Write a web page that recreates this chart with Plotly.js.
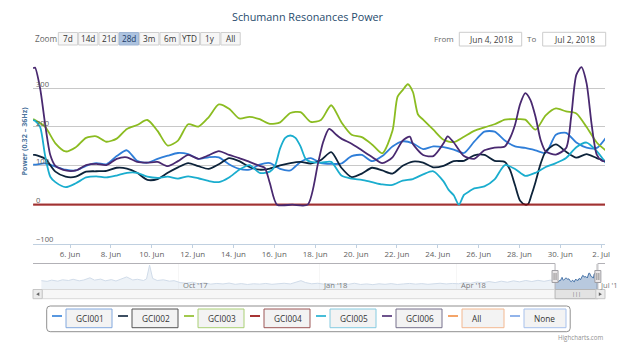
<!DOCTYPE html>
<html>
<head>
<meta charset="utf-8">
<script src="https://cdn.plot.ly/plotly-3.0.1.min.js"></script>
<style>html,body{margin:0;padding:0;background:#fff}#chart{width:640px;height:343px}</style>
</head>
<body>
<div id="chart"></div>
<script>
// ================= DATA =================
const seriesNames  = ['GCI001','GCI002','GCI003','GCI004','GCI005','GCI006'];
const seriesColors = ['#2f7ed8','#0d233a','#8bbc21','#910000','#1aadce','#492970'];

// day offsets (days after 2018-06-04 06:49) and values
const gci001Days = [-0.09,0,0.5,1,1.5,2,2.5,3,3.5,4,4.5,5,5.5,6,6.5,7,7.5,8,8.5,9,9.5,10,10.5,11,11.5,12,12.5,13,13.5,14,14.5,15,15.5,16,16.5,17,17.5,18,18.5,19,19.5,20,20.5,21,21.5,22,22.5,23,23.5,24,24.5,25,25.5,26,26.5,27,27.5,28];
const gci001Values = [103,103,106,98,90,88,100,107,104,125,140,113,108,118,126,133,130,118,122,122,104,92,90,103,107,92,88,110,120,107,105,106,125,128,112,125,150,163,158,143,150,148,142,133,162,188,188,165,150,146,140,133,180,185,160,147,146,176];

const gci002Days = [-0.09,0,0.5,1,1.5,2,2.5,3,3.5,4,4.5,5,5.5,6,6.5,7,7.5,8,8.5,9,9.5,10,10.5,11,11.5,12,12.5,13,13.5,14,14.5,15,15.5,16,16.5,17,17.5,18,18.5,19,19.5,20,20.5,21,21.5,22,22.5,23,23.25,23.5,23.75,24,24.15,24.3,24.5,24.75,25,25.5,26,26.5,27,27.5,28];
const gci002Values = [128,128,118,85,72,72,85,86,87,95,93,82,64,66,82,96,107,99,92,104,120,112,97,90,93,101,107,110,106,115,135,95,71,80,95,88,80,100,111,108,96,100,112,113,127,128,113,110,90,50,10,0,2,24,58,105,137,155,136,121,130,120,111];

const gci003Days = [-0.09,0,0.5,1,1.5,2,2.5,3,3.5,4,4.5,5,5.5,6,6.5,7,7.5,8,8.5,9,9.5,10,10.5,11,11.5,12,12.5,13,13.5,14,14.5,15,15.5,16,16.5,17,17.5,17.75,18,18.25,18.5,18.75,19,19.5,20,20.5,21,21.5,22,22.5,23,23.5,24,24.5,25,25.5,26,26.5,27,27.5,28];
const gci003Values = [220,218,200,158,137,148,172,176,162,170,195,205,218,190,152,165,207,201,225,258,247,222,226,220,208,212,236,238,213,218,256,212,180,174,155,132,190,278,295,310,290,232,219,193,167,161,175,190,199,207,219,220,219,193,230,248,240,235,200,160,137];

const gci004Days = [-0.09,28];
const gci004Values = [0,0];

const gci005Days = [-0.09,0,0.25,0.5,0.75,1,1.5,2,2.5,3,3.5,4,4.5,5,5.5,6,6.5,7,7.5,8,8.5,9,9.5,10,10.5,11,11.5,11.75,12,12.25,12.5,12.75,13,13.25,13.5,14,14.5,15,15.5,16,16.5,17,17.5,18,18.5,19,19.5,20,20.25,20.5,20.75,21,21.25,21.5,22,22.5,23,23.5,24,24.5,25,25.5,26,26.5,27,27.5,28];
const gci005Values = [218,216,200,125,72,58,45,55,70,73,70,75,82,82,72,69,72,67,73,68,61,58,70,90,102,82,85,100,145,172,178,172,150,118,110,108,110,75,67,64,58,52,51,62,66,78,86,60,38,24,0,25,34,42,47,65,102,92,74,82,97,107,120,148,160,138,103];

const gci006Days = [-0.09,0,0.25,0.5,0.75,1,1.5,2,2.5,3,3.5,4,4.5,5,5.5,6,6.5,7,7.5,8,8.5,9,9.5,10,10.5,11,11.25,11.5,11.85,12.6,13.35,13.85,14.1,14.4,14.75,15,15.5,16,16.5,17,17.5,18,18.35,18.5,19,19.5,20,20.2,20.5,21,21.5,22,22.5,23,23.25,23.5,23.75,24,24.25,24.5,24.75,25,25.5,26,26.25,26.5,26.75,27,27.25,27.5,27.75,28];
const gci006Values = [351,353,300,206,128,100,88,88,102,105,102,118,122,110,108,110,99,112,128,118,127,138,128,120,110,100,95,55,0,0,0,105,160,195,180,170,157,140,123,107,122,165,175,156,128,125,158,176,160,125,118,140,147,150,171,206,259,287,270,227,167,137,129,146,227,334,354,313,206,129,113,111];

// navigator history (one year), read from the navigator strip
const navDates = ['2017-07-03 05:00','2017-07-07','2017-07-10','2017-07-14','2017-07-17','2017-07-21','2017-07-24','2017-07-28','2017-07-31','2017-08-04','2017-08-07','2017-08-11','2017-08-14','2017-08-18','2017-08-21','2017-08-25','2017-08-28','2017-09-01','2017-09-04','2017-09-08','2017-09-10','2017-09-12','2017-09-14','2017-09-17','2017-09-21','2017-09-25','2017-09-28','2017-10-02','2017-10-06','2017-10-10','2017-10-14','2017-10-18','2017-10-22','2017-10-26','2017-10-30','2017-11-03','2017-11-07','2017-11-11','2017-11-15','2017-11-19','2017-11-23','2017-11-27','2017-12-01','2017-12-05','2017-12-09','2017-12-13','2017-12-17','2017-12-20','2017-12-23','2017-12-27','2017-12-31','2018-01-04','2018-01-08','2018-01-12','2018-01-16','2018-01-20','2018-01-24','2018-01-28','2018-02-01','2018-02-05','2018-02-09','2018-02-13','2018-02-17','2018-02-21','2018-02-25','2018-03-01','2018-03-05','2018-03-09','2018-03-13','2018-03-17','2018-03-21','2018-03-25','2018-03-29','2018-04-02','2018-04-06','2018-04-10','2018-04-14','2018-04-18','2018-04-22','2018-04-26','2018-04-30','2018-05-04','2018-05-08','2018-05-12','2018-05-16','2018-05-20','2018-05-24','2018-05-28','2018-06-01','2018-06-04'];
const navValues = [102,94,108,96,112,104,118,100,110,135,108,120,100,114,98,122,145,110,118,104,122,282,128,104,112,96,102,80,72,84,66,76,62,70,64,74,60,68,58,66,62,70,60,66,72,64,82,102,80,66,72,62,70,58,66,60,72,58,64,56,66,60,68,58,64,70,62,68,60,66,72,64,70,66,80,72,86,78,92,80,96,84,100,88,104,92,106,94,108,100];

const yTickVals = [-100,0,100,200,300,400];
const yTickText = ['\u2212100','0','100','200','300',''];
const navTickDates = ['2017-10-01','2018-01-01','2018-04-01','2018-07-01'];
const navTickLabels = ["Oct '17","Jan '18","Apr '18","Jul '1"];
const zoomButtons = ['7d','14d','21d','28d','3m','6m','YTD','1y','All'];
const legendLabels = ['GCI001','GCI002','GCI003','GCI004','GCI005','GCI006','All','None'];
const legendLineColors = ['#2f7ed8','#0d233a','#8bbc21','#910000','#1aadce','#492970','#f28f43','#77a1e5'];
const legendBorderColors = ['#82a8de','#555555','#a9cf74','#9c5656','#86cbe0','#76708c','#f3b890','#a7c1ec'];

// ================= LAYOUT HELPERS =================
const W = 640, H = 343;
const px = v => v / W;
const py = v => 1 - v / H;
const FONT = '"Open Sans", "DejaVu Sans", sans-serif';
const dataStart = Date.UTC(2018, 5, 4, 6, 49);
function dayToDate(d) {
  return new Date(dataStart + d * 86400000).toISOString().slice(0, 19).replace('T', ' ');
}
const viewStart = '2018-06-04 04:30', viewEnd = '2018-07-02 04:30';
const viewMid = '2018-06-18 04:30';
const navRange = ['2017-06-27 18:00', '2018-07-06 20:24'];

const allDays = [gci001Days, gci002Days, gci003Days, gci004Days, gci005Days, gci006Days];
const allValues = [gci001Values, gci002Values, gci003Values, gci004Values, gci005Values, gci006Values];

const traces = seriesNames.map((name, i) => ({
  type: 'scatter', mode: 'lines', name: name,
  x: allDays[i].map(dayToDate), y: allValues[i],
  xaxis: 'x', yaxis: 'y',
  line: {color: seriesColors[i], width: i === 3 ? 2.4 : 1.8, shape: i === 3 ? 'linear' : 'spline', smoothing: 0.7},
  opacity: i === 3 ? 0.75 : 1,
  hoverinfo: 'skip'
}));

traces.unshift({
  type: 'scatter', mode: 'lines', name: 'navigator',
  x: navDates.concat(gci001Days.map(dayToDate)),
  y: navValues.concat(gci001Values),
  xaxis: 'x2', yaxis: 'y2',
  fill: 'tozeroy', fillcolor: 'rgba(69,114,167,0.38)',
  line: {color: '#4572A7', width: 1},
  hoverinfo: 'skip'
});

const shapes = [];
const annotations = [];
function prect(x0, x1, y0, y1, fill, stroke) {
  shapes.push({type: 'rect', xref: 'paper', yref: 'paper', x0: px(x0), x1: px(x1), y0: py(y1), y1: py(y0),
    fillcolor: fill, line: {color: stroke, width: stroke ? 1 : 0}, layer: 'above'});
}
function ptext(x, y, text, size, color, xanchor, extra) {
  annotations.push(Object.assign({xref: 'paper', yref: 'paper', x: px(x), y: py(y), text: text, showarrow: false,
    font: {family: FONT, size: size, color: color}, xanchor: xanchor || 'center', yanchor: 'middle'}, extra || {}));
}

// ----- range selector -----
ptext(33, 39, 'Zoom', 8.2, '#666666', 'left');
zoomButtons.forEach((b, i) => {
  const x0 = 58.3 + i * 20.33;
  const sel = b === '28d';
  prect(x0, x0 + 19.3, 32.5, 45, sel ? '#adc3e0' : '#f6f6f6', sel ? '#9fb5d3' : '#cfcfcf');
  ptext(x0 + 9.65, 38.9, b, 8.2, sel ? '#1b3a66' : '#333333');
});
ptext(456, 39, 'From', 8, '#666666', 'right');
prect(459.3, 521.7, 32.3, 46, '#ffffff', '#cccccc');
ptext(490.5, 39.2, 'Jun 4, 2018', 8.4, '#444444');
ptext(538.3, 39, 'To', 8, '#666666', 'right');
prect(542.7, 605.7, 32.3, 46, '#ffffff', '#cccccc');
ptext(574.2, 39.2, 'Jul 2, 2018', 8.4, '#444444');

// ----- y axis title -----
ptext(23.5, 141, '<b>Power (0.32 \u2013 36Hz)</b>', 7.2, '#4d759e', 'center', {textangle: -90});

// ----- navigator -----
const navTop = 263.5, navBot = 289.5, sbTop = 289.5, sbBot = 298.7;
const outline = '#b2b1b6';
shapes.push({type: 'rect', xref: 'x2', yref: 'paper', x0: navRange[0], x1: viewStart, y0: py(navBot), y1: py(navTop),
  fillcolor: 'rgba(255,255,255,0.75)', line: {width: 0}, layer: 'above'});
[[navRange[0], viewStart, navTop, navTop], [viewStart, viewStart, navTop, navBot], [viewStart, viewEnd, navBot, navBot],
 [viewEnd, viewEnd, navBot, navTop], [viewEnd, navRange[1], navTop, navTop]].forEach(s => {
  shapes.push({type: 'line', xref: 'x2', yref: 'paper', x0: s[0], x1: s[1], y0: py(s[2]), y1: py(s[3]),
    line: {color: outline, width: 1}, layer: 'above'});
});
navTickDates.forEach((d, i) => {
  annotations.push({xref: 'x2', yref: 'paper', x: d, y: py(284.6), text: navTickLabels[i], showarrow: false,
    xanchor: 'left', yanchor: 'middle', xshift: 2, font: {family: FONT, size: 7.6, color: '#7a7a7a'}});
});
// scrollbar
prect(42.2, 595.8, sbTop, sbBot, '#f7f7f7', '#d9d9d9');
shapes.push({type: 'rect', xref: 'x2', yref: 'paper', x0: viewStart, x1: viewEnd, y0: py(sbBot), y1: py(sbTop),
  fillcolor: '#e3e3e3', line: {color: '#b5b5b5', width: 1}, layer: 'above'});
annotations.push({xref: 'x2', yref: 'paper', x: viewMid, y: py(294.2), text: '|||', showarrow: false,
  xanchor: 'center', yanchor: 'middle', font: {family: FONT, size: 5.5, color: '#666666'}});
prect(33, 42.2, sbTop, sbBot, '#ececec', '#c6c6c6');
prect(595.8, 605, sbTop, sbBot, '#ececec', '#c6c6c6');
shapes.push({type: 'path', xref: 'paper', yref: 'paper', path:
  `M ${px(39.3)},${py(292.3)} L ${px(39.3)},${py(296)} L ${px(36.2)},${py(294.15)} Z`, fillcolor: '#666666', line: {width: 0}});
shapes.push({type: 'path', xref: 'paper', yref: 'paper', path:
  `M ${px(598.8)},${py(292.3)} L ${px(598.8)},${py(296)} L ${px(601.9)},${py(294.15)} Z`, fillcolor: '#666666', line: {width: 0}});
// handles
[viewStart, viewEnd].forEach(d => {
  shapes.push({type: 'rect', xref: 'x2', yref: 'paper', xsizemode: 'pixel', xanchor: d, x0: -3, x1: 3,
    y0: py(282.5), y1: py(270.5), fillcolor: '#ebe7e8', line: {color: '#9f9ea3', width: 1}, layer: 'above'});
  [-1, 1].forEach(o => shapes.push({type: 'line', xref: 'x2', yref: 'paper', xsizemode: 'pixel', xanchor: d,
    x0: o, x1: o, y0: py(280), y1: py(273), line: {color: '#777777', width: 0.8}, layer: 'above'}));
});

// ----- legend -----
(function () {
  const x0 = 46.7, x1 = 570.2, y0 = 306, y1 = 331.7, r = 3.5;
  shapes.push({type: 'path', xref: 'paper', yref: 'paper', layer: 'above', fillcolor: '#ffffff',
    line: {color: '#909090', width: 1}, path:
    `M ${px(x0 + r)},${py(y0)} L ${px(x1 - r)},${py(y0)} Q ${px(x1)},${py(y0)} ${px(x1)},${py(y0 + r)} ` +
    `L ${px(x1)},${py(y1 - r)} Q ${px(x1)},${py(y1)} ${px(x1 - r)},${py(y1)} L ${px(x0 + r)},${py(y1)} ` +
    `Q ${px(x0)},${py(y1)} ${px(x0)},${py(y1 - r)} L ${px(x0)},${py(y0 + r)} Q ${px(x0)},${py(y0)} ${px(x0 + r)},${py(y0)} Z`});
})();
const legendStarts = [52, 118, 184, 250, 316, 382, 448, 510];
legendLabels.forEach((lab, i) => {
  const x0 = legendStarts[i];
  const bw = i < 6 ? 46 : 42;
  shapes.push({type: 'line', xref: 'paper', yref: 'paper', x0: px(x0), x1: px(x0 + 10), y0: py(316), y1: py(316),
    line: {color: legendLineColors[i], width: 1.6}, layer: 'above'});
  prect(x0 + 14, x0 + 14 + bw, 309, 327.7, '#f3f3f3', legendBorderColors[i]);
  ptext(x0 + 22, 318.4, lab, 8.3, '#333333', 'left');
});

// credits
ptext(604.5, 337.5, 'Highcharts.com', 6.2, '#909090', 'right');

const layout = {
  width: W, height: H,
  margin: {l: 0, r: 0, t: 0, b: 0, pad: 0},
  paper_bgcolor: '#ffffff', plot_bgcolor: '#ffffff',
  showlegend: false,
  font: {family: FONT, color: '#666666', size: 8},
  title: {text: 'Schumann Resonances Power', font: {family: FONT, size: 10.8, color: '#274b6d'},
    x: px(307.5), xanchor: 'center', xref: 'paper', y: py(17.5), yanchor: 'middle', yref: 'paper'},
  xaxis: {domain: [px(33), px(605)], anchor: 'y', type: 'date', range: [viewStart, viewEnd],
    showgrid: false, zeroline: false, showline: true, linecolor: '#C0D0E0', linewidth: 1,
    ticks: 'outside', ticklen: 3.5, tickcolor: '#C0D0E0', tickwidth: 1,
    tick0: '2018-06-06', dtick: 2 * 86400000, tickformat: '%-d. %b',
    tickfont: {family: FONT, size: 7.9, color: '#606060'}, fixedrange: true},
  yaxis: {domain: [py(243.5), py(49.3)], anchor: 'x', range: [-100, 400],
    tickmode: 'array', tickvals: yTickVals, ticktext: yTickText,
    showgrid: true, gridcolor: '#C8C8C8', gridwidth: 1, zeroline: false, showline: false, ticks: '',
    ticklabelposition: 'inside', ticklabelshift: -4, ticklabeloverflow: 'allow',
    tickfont: {family: FONT, size: 7.6, color: '#606060'}, fixedrange: true},
  xaxis2: {domain: [px(33), px(605)], anchor: 'y2', type: 'date', range: navRange,
    showgrid: true, gridcolor: '#dcdcdc', gridwidth: 1, tickmode: 'array', tickvals: navTickDates,
    showticklabels: false, ticks: '', showline: false, zeroline: false, fixedrange: true},
  yaxis2: {domain: [py(navBot), py(navTop)], anchor: 'x2', range: [0, 300],
    showgrid: false, showticklabels: false, ticks: '', zeroline: false, showline: false, fixedrange: true},
  shapes: shapes,
  annotations: annotations
};

Plotly.newPlot('chart', traces, layout, {displayModeBar: false, staticPlot: true});
</script>
</body>
</html>
